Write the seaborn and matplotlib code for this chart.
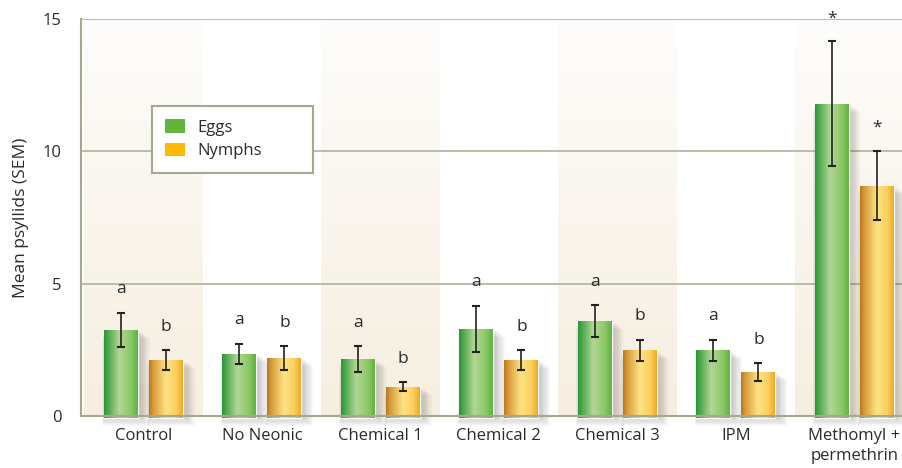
import numpy as np
import pandas as pd
import matplotlib
matplotlib.use('Agg')
import matplotlib.pyplot as plt
import matplotlib.colors as mcolors
from matplotlib.patches import Patch, Rectangle
import seaborn as sns

# data
treatments = ['Control', 'No Neonic', 'Chemical 1', 'Chemical 2', 'Chemical 3', 'IPM',
              'Methomyl +\npermethrin']
eggs_mean = [3.25, 2.35, 2.15, 3.3, 3.6, 2.48, 11.8]
eggs_sem = [0.65, 0.38, 0.5, 0.87, 0.6, 0.4, 2.35]
nymphs_mean = [2.12, 2.2, 1.1, 2.12, 2.48, 1.66, 8.7]
nymphs_sem = [0.38, 0.45, 0.17, 0.37, 0.4, 0.35, 1.3]
eggs_letters = ['a', 'a', 'a', 'a', 'a', 'a', '*']
nymphs_letters = ['b', 'b', 'b', 'b', 'b', 'b', '*']
stages = ['Eggs', 'Nymphs']
y_ticks = [0, 5, 10, 15]

df = pd.DataFrame({
    'treatment': treatments * 2,
    'stage': ['Eggs'] * len(treatments) + ['Nymphs'] * len(treatments),
    'mean': eggs_mean + nymphs_mean,
})

sns.set_style('white')
plt.rcParams['font.family'] = ['Open Sans', 'DejaVu Sans']
text_color = '#2b2b2b'
line_color = '#b3b8a2'

fig = plt.figure(figsize=(9.03, 4.68), dpi=100)
ax = fig.add_axes([81 / 903, 52 / 468, 1 - 81 / 903, 397 / 468])

base_colors = {'Eggs': '#62b43a', 'Nymphs': '#fbb900'}
sns.barplot(data=df, x='treatment', y='mean', hue='stage', hue_order=stages,
            order=treatments, palette=base_colors, width=0.76, gap=0.245,
            errorbar=None, legend=False, ax=ax, zorder=3)

# alternating background bands with a soft vertical gradient
band = np.linspace(0, 1, 100)[:, None]
c_top = np.array(mcolors.to_rgb('#fefdfb'))
c_bot = np.array(mcolors.to_rgb('#f6eee0'))
band_img = c_bot[None, None, :] * (1 - band[:, :, None]) + c_top[None, None, :] * band[:, :, None]
for i in range(0, len(treatments), 2):
    ax.imshow(band_img, extent=(i - 0.5, i + 0.5, 0, 15), origin='lower',
              aspect='auto', zorder=0, interpolation='bilinear')

for yv in y_ticks[1:]:
    ax.axhline(yv, color=line_color, lw=1.3, zorder=1)


def h_gradient(stops, n=80):
    pos = [s[0] for s in stops]
    cols = np.array([mcolors.to_rgb(s[1]) for s in stops])
    xs = np.linspace(0, 1, n)
    rgb = np.stack([np.interp(xs, pos, cols[:, k]) for k in range(3)], axis=-1)
    return rgb[None, :, :]


grads = {
    'Eggs': h_gradient([(0, '#2c953c'), (0.12, '#4ea84a'), (0.45, '#b2d696'),
                        (0.8, '#8ac866'), (1, '#5fb43c')]),
    'Nymphs': h_gradient([(0, '#bb781e'), (0.12, '#d79a3a'), (0.5, '#fee383'),
                          (0.8, '#fbd060'), (1, '#efaa22')]),
}

px_x = (6.411 + 0.527) / 822
px_y = 15 / 397

means = {'Eggs': eggs_mean, 'Nymphs': nymphs_mean}
sems = {'Eggs': eggs_sem, 'Nymphs': nymphs_sem}
letters = {'Eggs': eggs_letters, 'Nymphs': nymphs_letters}

for stage, cont in zip(stages, ax.containers):
    xs = []
    for bar in cont:
        x0, w, h = bar.get_x(), bar.get_width(), bar.get_height()
        # soft drop shadow
        for k in range(1, 10):
            ax.add_patch(Rectangle((x0 + (1 - 0.3 * k) * px_x, -k * 1.1 * px_y),
                                   w + k * 1.5 * px_x, h + k * 0.2 * px_y,
                                   facecolor='black', alpha=0.022,
                                   edgecolor='none', zorder=2, clip_on=False))
        bar.set_y(-2 * px_y)
        bar.set_height(h + 2 * px_y)
        bar.set_clip_on(False)
        im = ax.imshow(grads[stage], extent=(x0, x0 + w, -2 * px_y, h), aspect='auto',
                       zorder=3.5, interpolation='bilinear')
        im.set_clip_path(bar)
        xs.append(x0 + w / 2)
    ax.errorbar(xs, means[stage], yerr=sems[stage], fmt='none', ecolor='#222222',
                elinewidth=1.2, capsize=3.2, capthick=1.5, zorder=5)
    for x, m, s, lab in zip(xs, means[stage], sems[stage], letters[stage]):
        ax.text(x, m + s + 0.88, lab, ha='center', va='center', fontsize=12.5,
                color=text_color, zorder=6)

ax.set_xlim(-0.527, 6.411)
ax.set_ylim(0, 15)

for side in ['top', 'right']:
    ax.spines[side].set_visible(False)
for side in ['left', 'bottom']:
    ax.spines[side].set_color('#a3a991')
    ax.spines[side].set_linewidth(1.5)
    ax.spines[side].set_zorder(4)

ax.set_yticks(y_ticks)
ax.set_yticklabels([str(v) for v in y_ticks])
ax.tick_params(axis='y', length=0, pad=14, labelsize=12, labelcolor=text_color)
ax.tick_params(axis='x', length=0, pad=9, labelsize=12, labelcolor=text_color)
ax.set_xlabel('')
ax.set_ylabel('Mean psyllids (SEM)', fontsize=12.5, color=text_color)
ax.yaxis.set_label_coords(-0.063, 0.5)
for lab in ax.get_xticklabels():
    lab.set_linespacing(1.3)

handles = [Patch(facecolor=base_colors[s], edgecolor='none', label=s) for s in stages]
leg = ax.legend(handles=handles, loc='upper left',
                bbox_to_anchor=(0.0864, 0.5, 0.196, 0.2816), mode='expand',
                borderaxespad=0, fontsize=12, frameon=True, fancybox=False,
                handlelength=1.2, handleheight=0.88, handletextpad=0.75,
                labelspacing=0.42, borderpad=0.8)
leg.get_frame().set_edgecolor('#a3a991')
leg.get_frame().set_linewidth(1.5)
leg.get_frame().set_facecolor('white')
leg.get_frame().set_alpha(1)
leg.set_zorder(10)
for t in leg.get_texts():
    t.set_color(text_color)

fig.savefig('out.png', dpi=100)
